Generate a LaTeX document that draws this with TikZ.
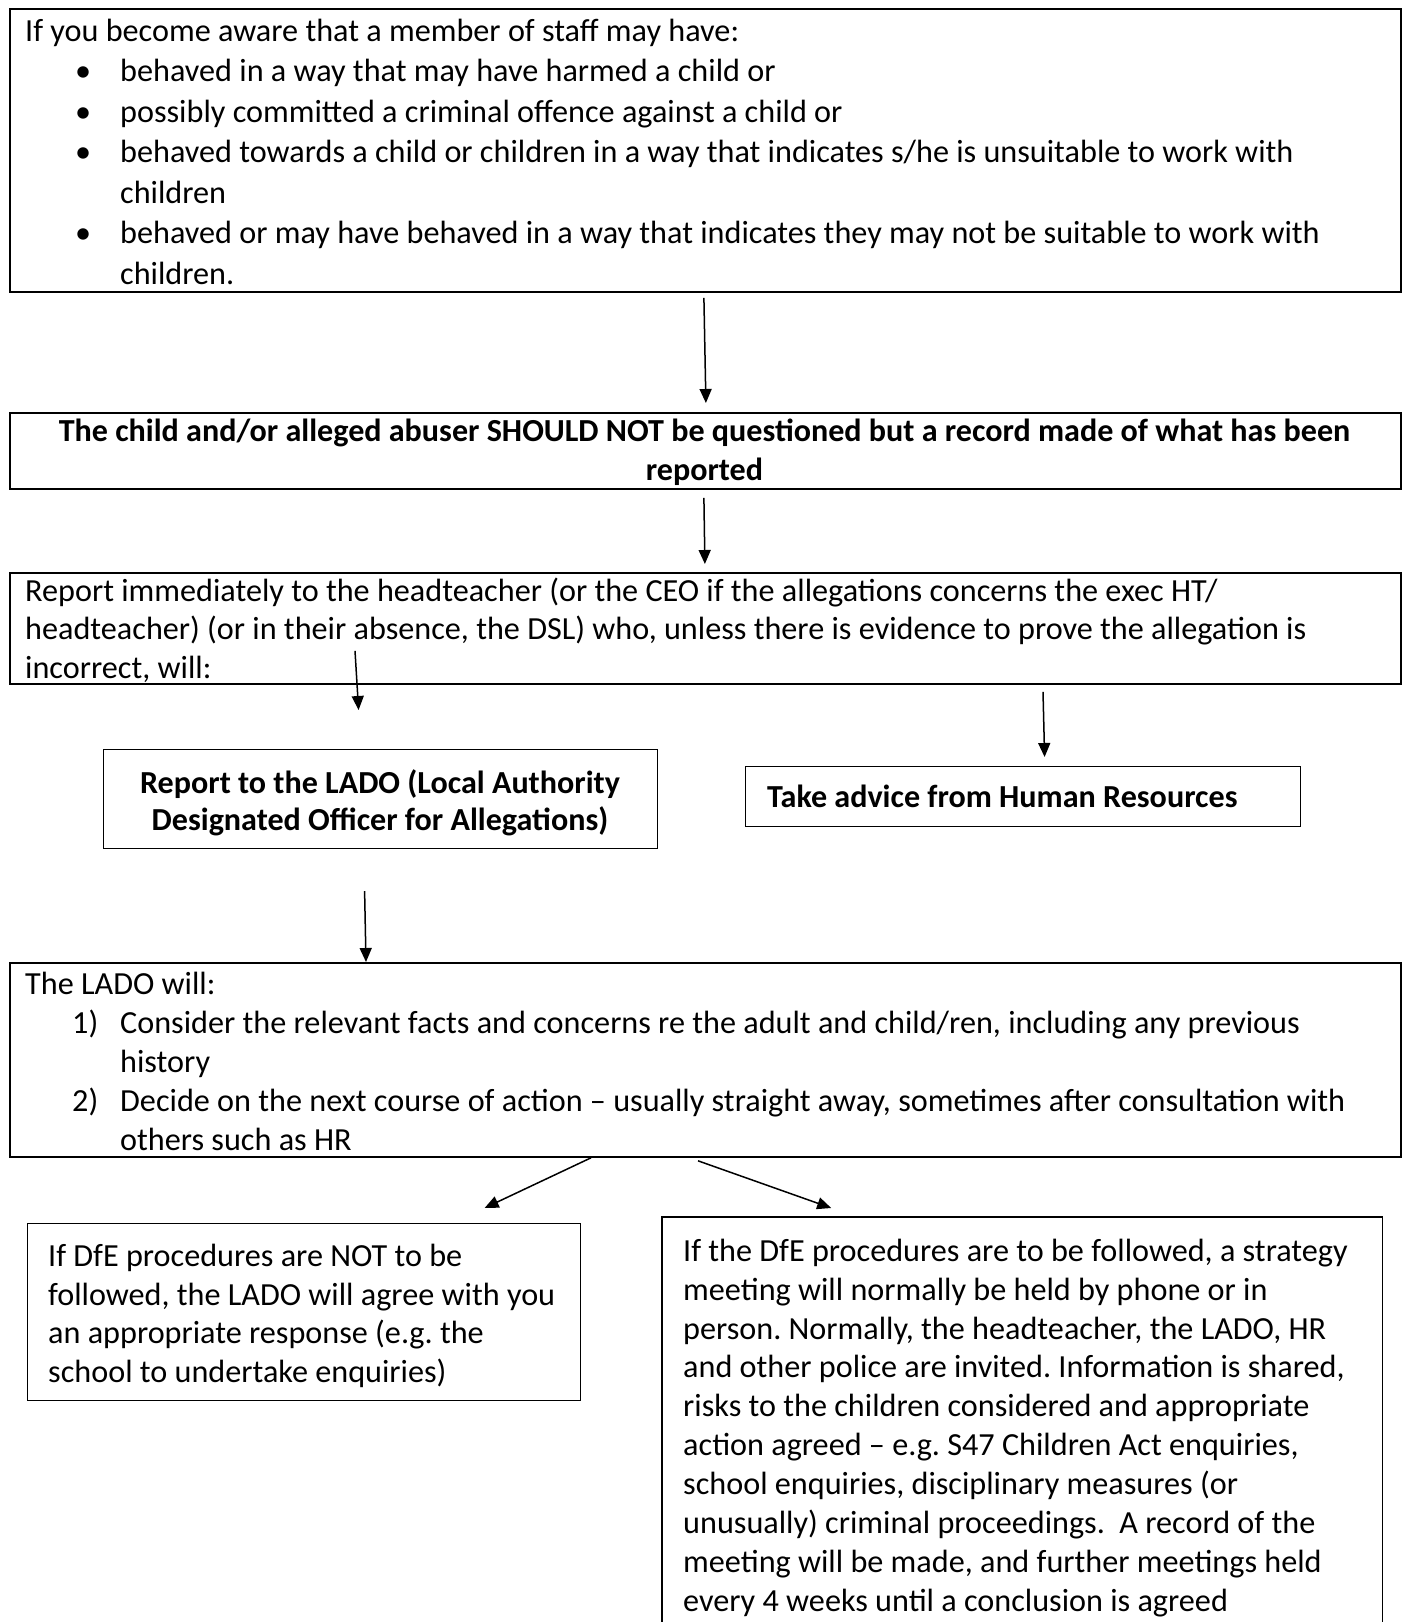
\documentclass[tikz,border=0pt]{standalone}
\usepackage{fontspec}
\setmainfont{Carlito}
\usetikzlibrary{arrows.meta,calc}
\frenchspacing
\newcommand\mybul{\makebox[95pt][l]{\hspace*{50pt}\textbullet}}
\newcommand\mynum[1]{\makebox[95pt][l]{\hspace*{47pt}#1}}
\newcommand\myind{\hspace*{95pt}}
\newcommand\fst{\rule{0pt}{26pt}}
\begin{document}
\begin{tikzpicture}[x=1pt,y=-1pt,
  box/.style={draw, line width=1.8pt, anchor=north west, inner sep=0pt},
  thinbox/.style={draw, line width=1.2pt, anchor=north west, inner sep=0pt},
  txt/.style={anchor=north west, inner sep=0pt, align=left, font=\fontsize{32.2}{39}\selectfont},
  btxt/.style={anchor=north, inner sep=0pt, align=center, font=\fontsize{32.1}{39}\selectfont\bfseries},
  arr/.style={line width=1.5pt, -{Triangle[width=12pt,length=14pt]}}]
\useasboundingbox (0,0) rectangle (1403,1622);

% boxes
\node[box, minimum width=1391pt, minimum height=283pt] (b1) at (9,8) {};
\node[box, minimum width=1391pt, minimum height=76pt] (b2) at (9,412) {};
\node[box, minimum width=1391pt, minimum height=111pt] (b3) at (9,572) {};
\node[thinbox, minimum width=554pt, minimum height=99pt] (b4) at (103,749) {};
\node[thinbox, minimum width=555pt, minimum height=60pt] (b5) at (745,766) {};
\node[box, minimum width=1391pt, minimum height=194pt] (b6) at (9,962) {};
\node[thinbox, minimum width=553pt, minimum height=177pt] (b7) at (27,1223) {};
\node[anchor=north west, inner sep=0pt, minimum width=720pt, minimum height=430pt] (b8) at (662,1217) {};
\draw[line width=1.2pt] (b8.south west) -- (b8.north west) -- (b8.north east) -- (b8.south east);

% texts (top = first baseline - 26)
\node[txt, font=\fontsize{32.2}{40.5}\selectfont] (t1) at (25,15) {\fst If you become aware that a member of staff may have:\\
\mybul behaved in a way that may have harmed a child or\\
\mybul possibly committed a criminal offence against a child or\\
\mybul behaved towards a child or children in a way that indicates s/he is unsuitable to work with\\
\myind children\\
\mybul behaved or may have behaved in a way that indicates they may not be suitable to work with\\
\myind children.};

\node[btxt] (t2) at (704.5,415) {\fst The child and/or alleged abuser SHOULD NOT be questioned but a record made of what has been\\ reported};

\node[txt, font=\fontsize{32.2}{38.5}\selectfont] (t3) at (25,575) {\fst Report immediately to the headteacher (or the CEO if the allegations concerns the exec HT/\\
headteacher) (or in their absence, the DSL) who, unless there is evidence to prove the allegation is\\
incorrect, will:};

\node[btxt, font=\fontsize{32.1}{37}\selectfont\bfseries] (t4) at (380,767) {\fst Report to the LADO (Local Authority\\ Designated Officer for Allegations)};

\node[txt, font=\fontsize{32.1}{39}\selectfont\bfseries] (t5) at (767,781) {\fst Take advice from Human Resources};

\node[txt] (t6) at (25,968) {\fst The LADO will:\\
\mynum{1)}Consider the relevant facts and concerns re the adult and child/ren, including any previous\\
\myind history\\
\mynum{2)}Decide on the next course of action – usually straight away, sometimes after consultation with\\
\myind others such as HR};

\node[txt, font=\fontsize{32.2}{38.8}\selectfont] (t7) at (48,1240) {\fst If DfE procedures are NOT to be\\
followed, the LADO will agree with you\\
an appropriate response (e.g. the\\
school to undertake enquiries)};

\node[txt, font=\fontsize{32.2}{38.9}\selectfont] (t8) at (683,1235) {\fst If the DfE procedures are to be followed, a strategy\\
meeting will normally be held by phone or in\\
person. Normally, the headteacher, the LADO, HR\\
and other police are invited. Information is shared,\\
risks to the children considered and appropriate\\
action agreed – e.g. S47 Children Act enquiries,\\
school enquiries, disciplinary measures (or\\
unusually) criminal proceedings.\ \ A record of the\\
meeting will be made, and further meetings held\\
every 4 weeks until a conclusion is agreed};

% arrows
\draw[arr] ([xshift=-1.5pt,yshift=-5pt]b1.south) -- ([xshift=0.5pt,yshift=9pt]b2.north);
\draw[arr] ([xshift=-1.5pt,yshift=-8pt]b2.south) -- ([xshift=-0.5pt,yshift=8pt]b3.north);
\draw[arr] ([xshift=346pt,yshift=34pt]b3.south west) -- ([xshift=-22pt,yshift=39pt]b4.north);
\draw[arr] ([xshift=1034pt,yshift=-7pt]b3.south west) -- ([xshift=21.5pt,yshift=9pt]b5.north);
\draw[arr] ([xshift=-16pt,yshift=-42pt]b4.south) -- ([xshift=357pt]b6.north west);
\draw[arr] ([xshift=582pt]b6.south west) -- ([xshift=180.5pt,yshift=15pt]b7.north);
\draw[arr] ([xshift=689pt,yshift=-3pt]b6.south west) -- ([xshift=-191pt,yshift=9pt]b8.north);
\end{tikzpicture}
\end{document}
